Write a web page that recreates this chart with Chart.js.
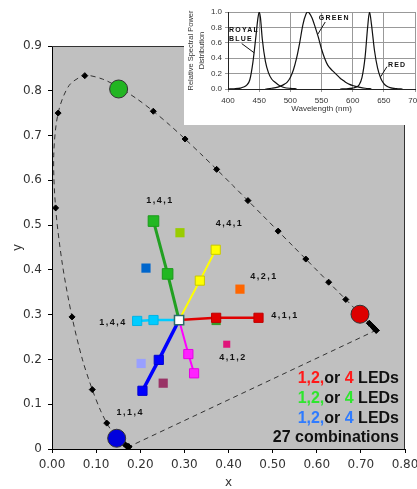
<!DOCTYPE html>
<html><head><meta charset="utf-8">
<script src="https://cdn.jsdelivr.net/npm/chart.js@4.4.0/dist/chart.umd.min.js"></script>
<style>
html,body{margin:0;padding:0;background:#fff;overflow:hidden;width:417px;height:489px;}
#wrap{position:relative;width:417px;height:489px;overflow:hidden;}
#main{position:absolute;left:0;top:0;}
#insetWrap{position:absolute;left:184px;top:0;width:233px;height:125px;background:#fff;overflow:hidden;}
#inset{position:absolute;left:0;top:0;}
</style></head><body>
<div id="wrap">
<canvas id="main" width="417" height="489"></canvas>
<div id="insetWrap"><canvas id="inset" width="260" height="125"></canvas></div>
</div>
<script>
// ---------- CIE 1931 spectral locus ----------
const locusWl = [380,385,390,395,400,405,410,415,420,425,430,435,440,445,450,455,460,465,470,475,480,485,490,495,500,505,510,515,520,525,530,535,540,545,550,555,560,565,570,575,580,585,590,595,600,605,610,615,620,625,630,635,640,645,650,655,660,665,670,680,690,700];
const locusX = [0.1741,0.1740,0.1738,0.1736,0.1733,0.1730,0.1726,0.1721,0.1714,0.1703,0.1689,0.1669,0.1644,0.1611,0.1566,0.1510,0.1440,0.1355,0.1241,0.1096,0.0913,0.0687,0.0454,0.0235,0.0082,0.0039,0.0139,0.0389,0.0743,0.1142,0.1547,0.1929,0.2296,0.2658,0.3016,0.3373,0.3731,0.4087,0.4441,0.4788,0.5125,0.5448,0.5752,0.6029,0.6270,0.6482,0.6658,0.6801,0.6915,0.7006,0.7079,0.7140,0.7190,0.7230,0.7260,0.7283,0.7300,0.7311,0.7327,0.7347,0.7347,0.7347];
const locusY = [0.0050,0.0050,0.0049,0.0049,0.0048,0.0048,0.0048,0.0048,0.0051,0.0058,0.0069,0.0086,0.0109,0.0138,0.0177,0.0227,0.0297,0.0399,0.0578,0.0868,0.1327,0.2007,0.2950,0.4127,0.5384,0.6548,0.7502,0.8120,0.8338,0.8262,0.8059,0.7816,0.7543,0.7243,0.6923,0.6589,0.6245,0.5896,0.5547,0.5202,0.4866,0.4544,0.4242,0.3965,0.3725,0.3514,0.3340,0.3197,0.3083,0.2993,0.2920,0.2859,0.2809,0.2770,0.2740,0.2717,0.2700,0.2689,0.2673,0.2653,0.2653,0.2653];

// ---------- LED combination points ----------
const whitePoint = [0.288, 0.288];
const greenArmX = [0.288, 0.262, 0.230], greenArmY = [0.288, 0.391, 0.509];
const yellowArmX = [0.288, 0.335, 0.371], yellowArmY = [0.288, 0.376, 0.445];
const redArmX = [0.288, 0.372, 0.468], redArmY = [0.288, 0.293, 0.293];
const cyanArmX = [0.288, 0.230, 0.193], cyanArmY = [0.288, 0.288, 0.286];
const magentaArmX = [0.288, 0.309, 0.322], magentaArmY = [0.288, 0.212, 0.169];
const blueArmX = [0.288, 0.242, 0.205], blueArmY = [0.288, 0.199, 0.130];

const otherX = [0.372, 0.290, 0.213, 0.426, 0.396, 0.202, 0.252];
const otherY = [0.287, 0.483, 0.404, 0.357, 0.234, 0.191, 0.147];
const otherColors = ['#3a9a2a','#99cc00','#0066cc','#ff6600','#e0147a','#99a0ff','#993366'];

const ledX = [0.151, 0.698, 0.1466], ledY = [0.804, 0.301, 0.024];
const ledColors = ['#22b522','#dd0000','#0000dd'];

const comboLabels = ['1,4,1','4,4,1','4,2,1','4,1,1','1,4,4','4,1,2','1,1,4'];
const comboLabelX = [0.2425, 0.400, 0.478, 0.526, 0.136, 0.408, 0.175];
const comboLabelY = [0.556, 0.5026, 0.386, 0.297, 0.282, 0.204, 0.081];

const xTicks = [0,0.1,0.2,0.3,0.4,0.5,0.6,0.7,0.8];
const yTicks = [0,0.1,0.2,0.3,0.4,0.5,0.6,0.7,0.8,0.9];

// ---------- Inset spectra ----------
const blueWl = [400,410,420,425,430,435,440,445,448,450,452,455,460,465,470,475,480,485,490,500,510];
const blueVal = [0,0.003,0.012,0.025,0.05,0.12,0.35,0.7,0.92,1.0,0.93,0.65,0.36,0.21,0.13,0.09,0.06,0.035,0.02,0.008,0.002];
const greenWl = [460,470,480,485,490,495,500,505,510,515,520,525,528,531,535,540,545,550,555,560,565,570,575,580,585,590,595,600,605,610,620,630];
const greenVal = [0,0.01,0.025,0.04,0.06,0.09,0.15,0.25,0.4,0.6,0.83,0.97,1.0,0.98,0.92,0.8,0.67,0.52,0.4,0.31,0.26,0.22,0.18,0.14,0.11,0.08,0.06,0.045,0.035,0.025,0.01,0.003];
const redWl = [580,590,600,605,610,615,620,624,627,630,635,640,645,650,655,660,670,680];
const redVal = [0,0.003,0.012,0.022,0.05,0.15,0.42,0.8,1.0,0.85,0.5,0.27,0.14,0.07,0.035,0.017,0.004,0];

const pts = (xs, ys) => xs.map((x, i) => ({x, y: ys[i]}));

const locusPts = pts(locusX, locusY);
const closePts = [locusPts[locusPts.length - 1], locusPts[0]];

function arm(xs, ys, lineColor, lineW, fill, border, r, order) {
  return {
    data: pts(xs, ys), showLine: true, borderColor: lineColor, borderWidth: lineW,
    pointStyle: 'rect', pointRadius: (c) => c.dataIndex === 0 ? 0 : r,
    pointBackgroundColor: fill, pointBorderColor: border, pointBorderWidth: 1,
    order: order
  };
}

const bgPlugin = {
  id: 'bg',
  beforeDraw(chart) {
    const {ctx, chartArea: a} = chart;
    ctx.save();
    ctx.fillStyle = '#c0c0c0';
    ctx.fillRect(a.left, a.top, a.right - a.left, a.bottom - a.top);
    ctx.restore();
  },
  afterDatasetsDraw(chart) {
    const {ctx, chartArea: a, scales} = chart;
    ctx.save();
    ctx.strokeStyle = '#333';
    ctx.lineWidth = 1;
    ctx.beginPath();
    ctx.moveTo(a.left, a.top + 0.5); ctx.lineTo(a.right - 0.5, a.top + 0.5); ctx.lineTo(a.right - 0.5, a.bottom);
    ctx.stroke();
    // combo labels
    ctx.fillStyle = '#111';
    ctx.font = 'bold 9px "Liberation Sans", Arial, sans-serif';
    ctx.letterSpacing = '1.5px';
    ctx.textAlign = 'center';
    ctx.textBaseline = 'middle';
    comboLabels.forEach((t, i) => {
      ctx.fillText(t, scales.x.getPixelForValue(comboLabelX[i]) + 1, scales.y.getPixelForValue(comboLabelY[i]));
    });
    ctx.letterSpacing = '0px';
    // legend text
    const lines = [
      [['1,2,', '#ff1a1a'], ['or ', '#111'], ['4', '#ff1a1a'], [' LEDs', '#111']],
      [['1,2,', '#2ee62e'], ['or ', '#111'], ['4', '#2ee62e'], [' LEDs', '#111']],
      [['1,2,', '#2f7bff'], ['or ', '#111'], ['4', '#2f7bff'], [' LEDs', '#111']],
      [['27 combinations', '#111']]
    ];
    const ys = [70, 50, 30, 11];
    ctx.font = 'bold 16px "Liberation Sans", Arial, sans-serif';
    ctx.textAlign = 'left';
    lines.forEach((segs, li) => {
      const total = segs.reduce((s, g) => s + ctx.measureText(g[0]).width, 0);
      let x = a.right - 6 - total;
      const y = a.bottom - ys[li];
      segs.forEach(g => { ctx.fillStyle = g[1]; ctx.fillText(g[0], x, y); x += ctx.measureText(g[0]).width; });
    });
    ctx.restore();
  }
};

new Chart(document.getElementById('main'), {
  type: 'scatter',
  data: {
    datasets: [
      {data: locusPts, showLine: true, borderColor: '#333', borderWidth: 1, borderDash: [5, 4], tension: 0.3,
       pointStyle: 'rectRot', pointRadius: (c) => locusWl[c.dataIndex] % 10 === 0 ? 3 : 0,
       pointBackgroundColor: '#000', pointBorderColor: '#000', pointBorderWidth: 1, order: 20},
      {data: closePts, showLine: true, borderColor: '#333', borderWidth: 1, borderDash: [5, 4], pointRadius: 0, order: 21},
      {data: pts(otherX, otherY), pointStyle: 'rect', pointRadius: (c) => c.dataIndex === 4 ? 5 : 6.5,
       pointBackgroundColor: otherColors, pointBorderColor: otherColors, pointBorderWidth: 0, order: 15},
      arm(greenArmX, greenArmY, '#22a022', 3, '#22b822', '#1a9a1a', 7.5, 10),
      arm(yellowArmX, yellowArmY, '#ffff00', 2, '#ffff00', '#c8c800', 6.5, 9),
      arm(redArmX, redArmY, '#e00000', 2.5, '#e00000', '#c00000', 6.5, 8),
      arm(cyanArmX, cyanArmY, '#00ccff', 2.5, '#00ccff', '#00b4e6', 6.5, 7),
      arm(magentaArmX, magentaArmY, '#ff00ff', 2, '#ff22ff', '#e600e6', 6.5, 6),
      arm(blueArmX, blueArmY, '#0000ff', 3.5, '#0000ff', '#0000d0', 6.5, 5),
      {data: [{x: whitePoint[0], y: whitePoint[1]}], pointStyle: 'rect', pointRadius: 6.5,
       pointBackgroundColor: '#ffffff', pointBorderColor: '#2a6a6a', pointBorderWidth: 1.5, order: 2},
      {data: pts(ledX, ledY), pointStyle: 'circle', pointRadius: 9,
       pointBackgroundColor: ledColors, pointBorderColor: '#333', pointBorderWidth: 1, order: 1}
    ]
  },
  options: {
    responsive: false, animation: false,
    layout: {padding: {top: 46, right: 12, left: 0, bottom: 0}},
    plugins: {legend: {display: false}, tooltip: {enabled: false}},
    scales: {
      x: {
        type: 'linear', min: 0, max: 0.8,
        afterBuildTicks: (s) => { s.ticks = xTicks.map(v => ({value: v})); },
        afterFit: (s) => { s.height = 40; s.paddingLeft = 0; s.paddingRight = 0; },
        ticks: {callback: (v) => Number(v).toFixed(2), font: {family: 'DejaVu Sans', size: 12}, color: '#333', padding: 5, maxRotation: 0},
        grid: {drawOnChartArea: false, drawTicks: true, tickLength: 4, color: '#000'},
        border: {color: '#000', width: 1},
        title: {display: true, text: 'x', font: {family: 'DejaVu Sans', size: 12, lineHeight: 1}, color: '#333', padding: {top: 0, bottom: 0}}
      },
      y: {
        type: 'linear', min: 0, max: 0.9,
        afterBuildTicks: (s) => { s.ticks = yTicks.map(v => ({value: v})); },
        afterFit: (s) => { s.width = 52; },
        ticks: {callback: (v) => v === 0 ? '0' : Number(v).toFixed(1), font: {family: 'DejaVu Sans', size: 12}, color: '#333', padding: 6},
        grid: {drawOnChartArea: false, drawTicks: true, tickLength: 4, color: '#000'},
        border: {color: '#000', width: 1},
        title: {display: true, text: 'y', font: {family: 'DejaVu Sans', size: 12, lineHeight: 1.2}, color: '#333', padding: {top: 11, bottom: 0}}
      }
    }
  },
  plugins: [bgPlugin]
});

// ---------- Inset chart ----------
const insetLabels = ['ROYAL', 'BLUE', 'GREEN', 'RED'];
const insetLabelWl = [400, 400, 544, 655];
const insetLabelVal = [0.77, 0.65, 0.92, 0.31];
const leaderWl = [[422, 442], [556, 544], [655, 645]];
const leaderVal = [[0.59, 0.47], [0.87, 0.71], [0.29, 0.16]];

const insetPlugin = {
  id: 'insetLabels',
  afterDatasetsDraw(chart) {
    const {ctx, scales: {x, y}} = chart;
    ctx.save();
    ctx.fillStyle = '#111';
    ctx.font = 'bold 7px "Liberation Sans", Arial, sans-serif';
    ctx.letterSpacing = '1.2px';
    ctx.textAlign = 'left';
    ctx.textBaseline = 'middle';
    insetLabels.forEach((t, i) => ctx.fillText(t, x.getPixelForValue(insetLabelWl[i]) + 1, y.getPixelForValue(insetLabelVal[i])));
    ctx.strokeStyle = '#111';
    ctx.lineWidth = 1;
    leaderWl.forEach((w, i) => {
      ctx.beginPath();
      ctx.moveTo(x.getPixelForValue(w[0]), y.getPixelForValue(leaderVal[i][0]));
      ctx.lineTo(x.getPixelForValue(w[1]), y.getPixelForValue(leaderVal[i][1]));
      ctx.stroke();
    });
    ctx.restore();
  }
};

function spec(wl, val) {
  return {data: pts(wl, val), showLine: true, borderColor: '#111', borderWidth: 1.2, pointRadius: 0, cubicInterpolationMode: 'monotone'};
}

new Chart(document.getElementById('inset'), {
  type: 'scatter',
  data: {datasets: [spec(blueWl, blueVal), spec(greenWl, greenVal), spec(redWl, redVal)]},
  options: {
    responsive: false, animation: false,
    layout: {padding: {top: 12, right: 29, left: 0, bottom: 0}},
    plugins: {legend: {display: false}, tooltip: {enabled: false}},
    scales: {
      x: {
        type: 'linear', min: 400, max: 700,
        ticks: {stepSize: 50, font: {family: 'Liberation Sans', size: 8}, color: '#333', padding: 4, maxRotation: 0},
        afterFit: (s) => { s.height = 36; },
        grid: {color: '#999', tickLength: 3},
        border: {color: '#222'},
        title: {display: true, text: 'Wavelength (nm)', font: {family: 'Liberation Sans', size: 8, lineHeight: 1.2}, color: '#333', padding: {top: 0, bottom: 11}}
      },
      y: {
        type: 'linear', min: 0, max: 1,
        ticks: {stepSize: 0.2, callback: (v) => Number(v).toFixed(1), font: {family: 'Liberation Sans', size: 8}, color: '#333', padding: 3},
        afterFit: (s) => { s.width = 44; },
        grid: {color: '#999', tickLength: 3},
        border: {color: '#222'},
        title: {display: true, text: ['Relative Spectral Power', 'Distribution'], font: {family: 'Liberation Sans', size: 7.5, lineHeight: 1.45}, color: '#333', padding: {top: 1.5, bottom: 0}}
      }
    }
  },
  plugins: [insetPlugin]
});
</script>
</body></html>
